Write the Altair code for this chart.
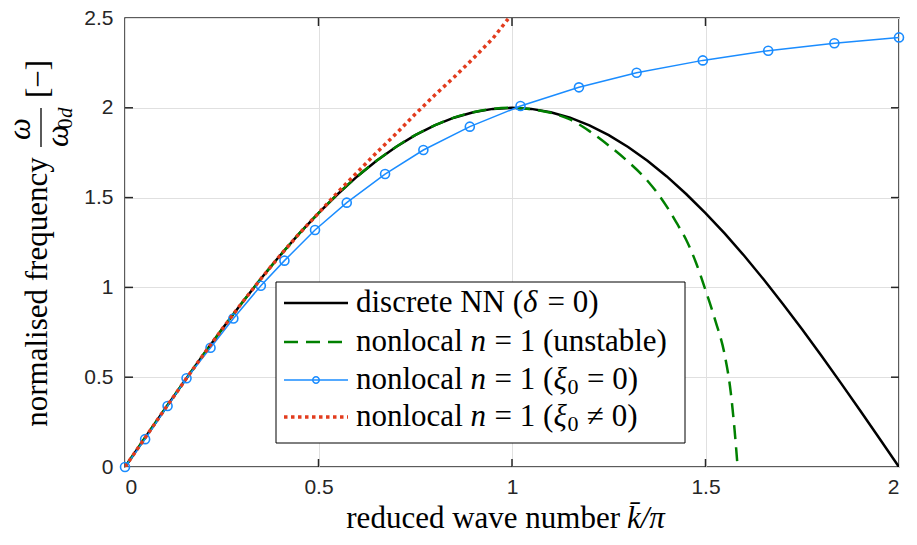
import altair as alt
import pandas as pd

# ---------------- data ----------------
# discrete NN (delta = 0)
k_nn = [0.00, 0.05, 0.10, 0.15, 0.20, 0.25, 0.30, 0.35, 0.40, 0.45, 0.50,
        0.55, 0.60, 0.65, 0.70, 0.75, 0.80, 0.85, 0.90, 0.95, 1.00,
        1.05, 1.10, 1.15, 1.20, 1.25, 1.30, 1.35, 1.40, 1.45, 1.50,
        1.55, 1.60, 1.65, 1.70, 1.75, 1.80, 1.85, 1.90, 1.95, 2.00]
w_nn = [0.000, 0.157, 0.313, 0.467, 0.618, 0.765, 0.908, 1.045, 1.176, 1.299, 1.414,
        1.520, 1.618, 1.705, 1.782, 1.848, 1.902, 1.945, 1.975, 1.994, 2.000,
        1.994, 1.975, 1.945, 1.902, 1.848, 1.782, 1.705, 1.618, 1.520, 1.414,
        1.299, 1.176, 1.045, 0.908, 0.765, 0.618, 0.467, 0.313, 0.157, 0.000]

# nonlocal n = 1 (unstable)
k_uns = [0.00, 0.05, 0.10, 0.15, 0.20, 0.25, 0.30, 0.35, 0.40, 0.45, 0.50,
         0.55, 0.60, 0.65, 0.70, 0.75, 0.80, 0.85, 0.90, 0.95, 1.00,
         1.05, 1.10, 1.15, 1.20, 1.25, 1.30, 1.35, 1.40, 1.425, 1.45,
         1.475, 1.50, 1.525, 1.55, 1.565, 1.575, 1.583]
w_uns = [0.000, 0.157, 0.313, 0.467, 0.618, 0.765, 0.908, 1.045, 1.176, 1.299, 1.414,
         1.520, 1.618, 1.705, 1.782, 1.848, 1.902, 1.945, 1.975, 1.994, 2.000,
         1.992, 1.972, 1.935, 1.870, 1.790, 1.700, 1.594, 1.450, 1.360, 1.265,
         1.140, 0.985, 0.818, 0.620, 0.420, 0.210, 0.000]

# nonlocal n = 1 (xi0 = 0)  -- one point per marker
k_xi0 = [0.000, 0.052, 0.110, 0.159, 0.221, 0.280, 0.351, 0.412, 0.491, 0.573,
         0.672, 0.771, 0.891, 1.022, 1.173, 1.322, 1.493, 1.662, 1.833, 2.000]
w_xi0 = [0.000, 0.155, 0.340, 0.494, 0.664, 0.827, 1.009, 1.149, 1.320, 1.472,
         1.631, 1.765, 1.895, 2.010, 2.114, 2.195, 2.264, 2.318, 2.359, 2.392]

# nonlocal n = 1 (xi0 != 0)
k_xin = [0.00, 0.05, 0.10, 0.15, 0.20, 0.25, 0.30, 0.35, 0.40, 0.45, 0.50,
         0.55, 0.60, 0.65, 0.70, 0.75, 0.80, 0.85, 0.90, 0.95, 0.99]
w_xin = [0.000, 0.157, 0.313, 0.467, 0.618, 0.765, 0.908, 1.045, 1.176, 1.299, 1.414,
         1.530, 1.640, 1.750, 1.855, 1.965, 2.070, 2.170, 2.275, 2.385, 2.495]

x_ticks = [0, 0.5, 1, 1.5, 2]
y_ticks = [0, 0.5, 1, 1.5, 2, 2.5]
x_inner = [0.5, 1, 1.5]
y_inner = [0.5, 1, 1.5, 2]

# ---------------- layout ----------------
W, H = 774, 449
FRAME = "#262626"
SERIF = "Liberation Serif"
BLUE = "#1a8cff"
RED = "#e23c1e"
GREEN = "#008000"

xs = alt.Scale(domain=[0, 2], nice=False, zero=False)
ys = alt.Scale(domain=[0, 2.5], nice=False, zero=False)
ax_x = alt.Axis(values=x_ticks, format="~g", title=None, ticks=False, domain=False,
                grid=True, gridColor="#e0e0e0", gridWidth=1,
                labelFont="Liberation Sans", labelFontSize=21, labelColor=FRAME,
                labelPadding=9)
ax_y = alt.Axis(values=y_ticks, format="~g", title=None, ticks=False, domain=False,
                grid=True, gridColor="#e0e0e0", gridWidth=1,
                labelFont="Liberation Sans", labelFontSize=21, labelColor=FRAME,
                labelPadding=12)


def X(f):
    return alt.X(f"{f}:Q", scale=xs, axis=ax_x)


def Y(f):
    return alt.Y(f"{f}:Q", scale=ys, axis=ax_y)


one = pd.DataFrame({"a": [0]})


def txt(s, x, y, size=31, italic=False, angle=0, align="left",
        baseline="alphabetic", font=SERIF):
    kw = dict(text=s, font=font, fontSize=size, align=align, baseline=baseline,
              color="black")
    if italic:
        kw["fontStyle"] = "italic"
    if angle:
        kw["angle"] = angle
    return alt.Chart(one).mark_text(**kw).encode(x=alt.value(x), y=alt.value(y))


df_nn = pd.DataFrame({"k": k_nn, "w": w_nn})
df_uns = pd.DataFrame({"k": k_uns, "w": w_uns})
df_xi0 = pd.DataFrame({"k": k_xi0, "w": w_xi0})
df_xin = pd.DataFrame({"k": k_xin, "w": w_xin})

black = alt.Chart(df_nn).mark_line(color="black", strokeWidth=2.5, clip=True).encode(
    x=X("k"), y=Y("w"))
green = alt.Chart(df_uns).mark_line(color=GREEN, strokeWidth=2.5, strokeDash=[14, 8],
                                    interpolate="monotone", clip=True).encode(
    x=X("k"), y=Y("w"))
blue_line = alt.Chart(df_xi0).mark_line(color=BLUE, strokeWidth=1.5, clip=True).encode(
    x=X("k"), y=Y("w"))
blue_pts = alt.Chart(df_xi0).mark_point(shape="circle", filled=False, color=BLUE,
                                        strokeWidth=1.6, size=81, opacity=1).encode(
    x=X("k"), y=Y("w"))
red = alt.Chart(df_xin).mark_line(color=RED, strokeWidth=3.5, strokeDash=[3.5, 3.5],
                                  strokeCap="butt", clip=True).encode(
    x=X("k"), y=Y("w"))

# inward ticks (MATLAB box style)
dxt = pd.DataFrame({"k": x_inner})
dyt = pd.DataFrame({"w": y_inner})
tick_b = alt.Chart(dxt).mark_rule(color=FRAME, strokeWidth=1.5).encode(
    x=X("k"), y=alt.value(H), y2=alt.value(H - 8))
tick_t = alt.Chart(dxt).mark_rule(color=FRAME, strokeWidth=1.5).encode(
    x=X("k"), y=alt.value(0), y2=alt.value(8))
tick_l = alt.Chart(dyt).mark_rule(color=FRAME, strokeWidth=1.5).encode(
    y=Y("w"), x=alt.value(0), x2=alt.value(8))
tick_r = alt.Chart(dyt).mark_rule(color=FRAME, strokeWidth=1.5).encode(
    y=Y("w"), x=alt.value(W), x2=alt.value(W - 8))

# legend (drawn by hand, MATLAB style)
LX0, LX1, LY0, LY1 = 151, 560, 264, 425
rows = [285, 324, 362, 399]
box = alt.Chart(one).mark_rect(fill="white", stroke="black", strokeWidth=1).encode(
    x=alt.value(LX0), x2=alt.value(LX1), y=alt.value(LY0), y2=alt.value(LY1))
s0, s1 = 159, 223
leg_black = alt.Chart(one).mark_rule(color="black", strokeWidth=2.5).encode(
    x=alt.value(s0), x2=alt.value(s1), y=alt.value(rows[0]))
leg_green = alt.Chart(one).mark_rule(color=GREEN, strokeWidth=2.5, strokeDash=[14, 8]).encode(
    x=alt.value(s0), x2=alt.value(s1), y=alt.value(rows[1]))
leg_blue = alt.Chart(one).mark_rule(color=BLUE, strokeWidth=1.5).encode(
    x=alt.value(s0), x2=alt.value(s1), y=alt.value(rows[2]))
leg_bpt = alt.Chart(one).mark_point(shape="circle", filled=False, color=BLUE,
                                    strokeWidth=1.5, size=42, opacity=1).encode(
    x=alt.value((s0 + s1) / 2), y=alt.value(rows[2]))
leg_red = alt.Chart(one).mark_rule(color=RED, strokeWidth=3.5, strokeDash=[3.5, 3.5],
                                   strokeCap="butt").encode(
    x=alt.value(s0), x2=alt.value(s1), y=alt.value(rows[3]))

T0 = 231
b = [r + 9 for r in rows]
leg_txt = [
    txt("discrete NN (", T0, b[0]),
    txt("δ", T0 + 167.0, b[0], italic=True),
    txt("= 0)", T0 + 191.5, b[0]),
    txt("nonlocal", T0, b[1]),
    txt("n", T0 + 114.5, b[1], italic=True),
    txt("= 1 (unstable)", T0 + 138.5, b[1]),
    txt("nonlocal", T0, b[2]),
    txt("n", T0 + 114.5, b[2], italic=True),
    txt("= 1 (", T0 + 138.5, b[2]),
    txt("ξ", T0 + 197.5, b[2], italic=True),
    txt("0", T0 + 211.5, b[2] + 5, size=22),
    txt("= 0)", T0 + 231, b[2]),
    txt("nonlocal", T0, b[3]),
    txt("n", T0 + 114.5, b[3], italic=True),
    txt("= 1 (", T0 + 138.5, b[3]),
    txt("ξ", T0 + 197.5, b[3], italic=True),
    txt("0", T0 + 211.5, b[3] + 5, size=22),
    txt("≠ 0)", T0 + 231, b[3]),
]

# axis titles (LaTeX-like composition)
x_title = [
    txt("reduced wave number", 495, 510, align="right"),
    txt("k\u0304/π", 502, 510, italic=True),
]
y_title = [
    txt("normalised frequency", -78, 274, angle=270, align="center"),
    txt("ω", -95, 111, italic=True, angle=270, align="center"),
    alt.Chart(one).mark_rule(color="black", strokeWidth=1.3).encode(
        x=alt.value(-84), y=alt.value(90), y2=alt.value(129)),
    txt("ω", -57, 129, italic=True, angle=270),
    txt("0", -53, 111, size=21, angle=270),
    txt("d", -53, 100, size=21, italic=True, angle=270),
    txt("[−]", -77, 61, angle=270, align="center"),
]

layers = [black, green, blue_line, blue_pts, red,
          tick_b, tick_t, tick_l, tick_r,
          box, leg_black, leg_green, leg_blue, leg_bpt, leg_red] + leg_txt + x_title + y_title

chart = alt.layer(*layers).properties(
    width=W, height=H,
    padding={"left": 125, "top": 18, "right": 18, "bottom": 78},
    autosize=alt.AutoSizeParams(type="none"),
    background="white",
).configure_view(stroke=FRAME, strokeWidth=1.5)

chart.save("out.html", embed_options={"renderer": "svg", "actions": False})
